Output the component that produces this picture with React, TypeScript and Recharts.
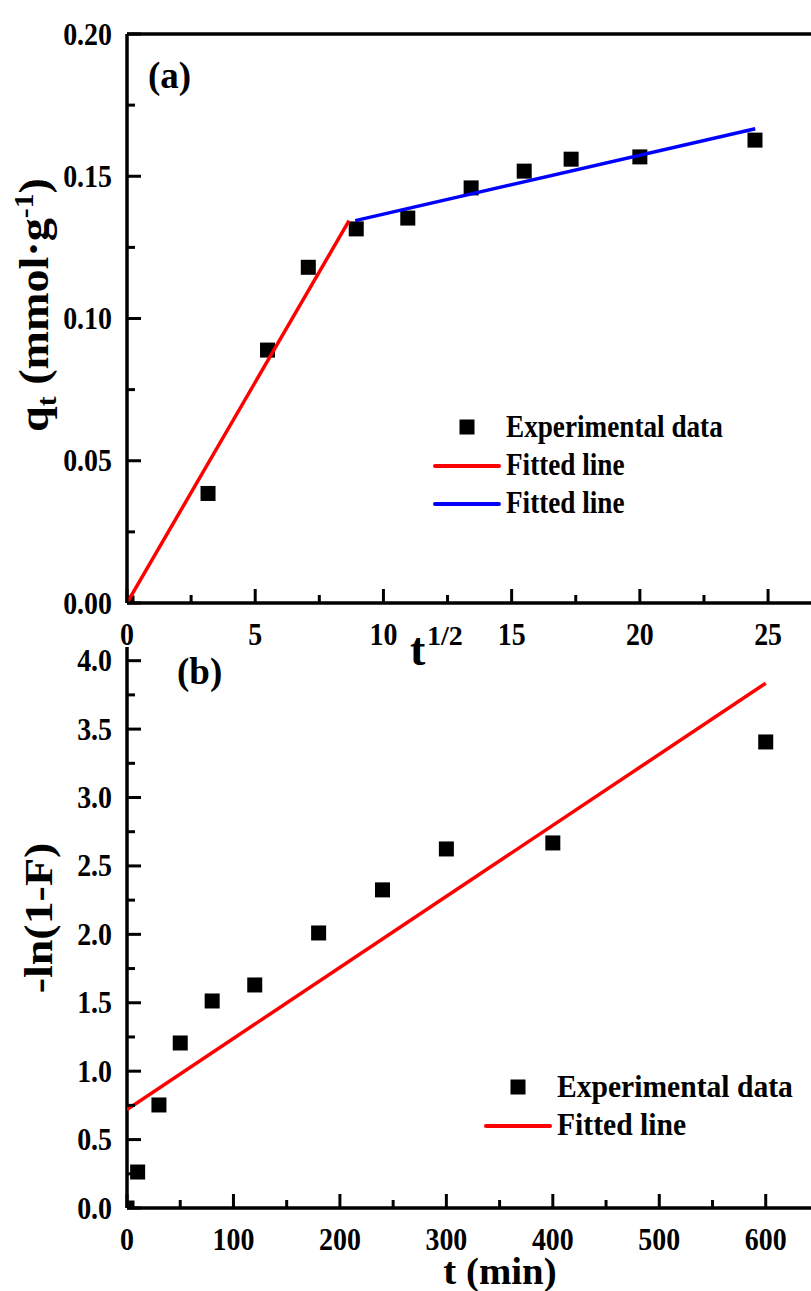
import React from 'react';
import { ComposedChart, Scatter, XAxis, YAxis, ReferenceLine, Legend } from 'recharts';

// (a) intraparticle diffusion: q_t vs t^1/2
const sqrtT = [0, 3.16, 5.48, 7.07, 8.94, 10.95, 13.42, 15.49, 17.32, 20.0, 24.49];
const qt = [0, 0.0385, 0.0889, 0.118, 0.1315, 0.1353, 0.1459, 0.1518, 0.156, 0.1568, 0.1627];
const fitA1X = [0, 8.66];
const fitA1Y = [0, 0.1344];
const fitA2X = [8.9, 24.5];
const fitA2Y = [0.1344, 0.1667];
const xTicksA = [0, 2.5, 5, 7.5, 10, 12.5, 15, 17.5, 20, 22.5, 25, 27.5];
const xMajorA = [0, 5, 10, 15, 20, 25];
const yTicksA = [0, 0.025, 0.05, 0.075, 0.1, 0.125, 0.15, 0.175, 0.2];
const yMajorA = [0, 0.05, 0.1, 0.15, 0.2];

// (b) film diffusion: -ln(1-F) vs t
const timeMin = [0, 10, 30, 50, 80, 120, 180, 240, 300, 400, 600];
const lnF = [0, 0.263, 0.753, 1.206, 1.513, 1.63, 2.01, 2.325, 2.624, 2.668, 3.406];
const fitBX = [0, 600];
const fitBY = [0.72, 3.835];
const xTicksB = [0, 50, 100, 150, 200, 250, 300, 350, 400, 450, 500, 550, 600, 650];
const xMajorB = [0, 100, 200, 300, 400, 500, 600];
const yTicksB = [0, 0.25, 0.5, 0.75, 1, 1.25, 1.5, 1.75, 2, 2.25, 2.5, 2.75, 3, 3.25, 3.5, 3.75, 4];
const yMajorB = [0, 0.5, 1, 1.5, 2, 2.5, 3, 3.5, 4];

const SERIF = '"Liberation Serif", "Times New Roman", Times, serif';

const zip = (xs: number[], ys: number[]) => xs.map((x, i) => ({ x, y: ys[i] }));

const isIn = (arr: number[], v: number) => arr.some((m) => Math.abs(m - v) < 1e-9);

function bottomTick(majors: number[], fmt: (v: number) => string) {
  return (props: any) => {
    const { x, y, payload } = props;
    const major = isIn(majors, payload.value);
    return (
      <g>
        <line x1={x} x2={x} y1={y} y2={y - (major ? 14 : 8)} stroke="#000" strokeWidth={3} />
        {major && (
          <text
            transform={`translate(${x},${y + 42}) scale(0.9,1)`}
            textAnchor="middle"
            fontFamily={SERIF}
            fontWeight="bold"
            fontSize={31}
            fill="#000"
          >
            {fmt(payload.value)}
          </text>
        )}
      </g>
    );
  };
}

function leftTick(majors: number[], fmt: (v: number) => string) {
  return (props: any) => {
    const { x, y, payload } = props;
    const major = isIn(majors, payload.value);
    return (
      <g>
        <line x1={x} x2={x + (major ? 14 : 8)} y1={y} y2={y} stroke="#000" strokeWidth={3} />
        {major && (
          <text
            transform={`translate(${x - 15},${y + 10.5}) scale(0.9,1)`}
            textAnchor="end"
            fontFamily={SERIF}
            fontWeight="bold"
            fontSize={31}
            fill="#000"
          >
            {fmt(payload.value)}
          </text>
        )}
      </g>
    );
  };
}

function legendBox(sx: number) {
  return (props: any) => {
    const items = props.payload || [];
    return (
      <svg width={380} height={130} style={{ overflow: 'visible' }}>
        {items.map((it: any, i: number) => {
          const base = 37 + 38 * i;
          const tx = 76;
          return (
            <g key={i}>
              {it.type === 'square' ? (
                <rect x={tx - 46.5} y={base - 17.5} width={15} height={15} fill="#000" />
              ) : (
                <line x1={tx - 71} x2={tx - 7} y1={base - 9} y2={base - 9} stroke={it.color} strokeWidth={4} strokeLinecap="round" />
              )}
              <text
                transform={`translate(${tx},${base}) scale(${sx},1)`}
                fontFamily={SERIF}
                fontWeight="bold"
                fontSize={32}
                fill="#000"
              >
                {it.value}
              </text>
            </g>
          );
        })}
      </svg>
    );
  };
}

const square = (p: any) => <rect x={p.cx - 7.5} y={p.cy - 7.5} width={15} height={15} fill="#000" />;
const none = () => <g />;

const axisLine = { stroke: '#000', strokeWidth: 3.5 };

export default function App() {
  const txt = { fontFamily: SERIF, fontWeight: 'bold' as const, fill: '#000' };
  return (
    <div style={{ position: 'absolute', left: 0, top: 0, width: 811, height: 1291, overflow: 'hidden', background: '#fff' }}>
      <div style={{ position: 'absolute', left: 0, top: 0 }}>
        <ComposedChart width={900} height={660} margin={{ top: 34, right: 55, bottom: 0, left: 0 }}>
          <XAxis
            dataKey="x"
            type="number"
            domain={[0, 28]}
            ticks={xTicksA}
            interval={0}
            allowDataOverflow
            height={57}
            tickSize={0}
            tickMargin={0}
            tickLine={false}
            axisLine={axisLine}
            tick={bottomTick(xMajorA, (v) => String(v))}
          />
          <YAxis
            dataKey="y"
            type="number"
            domain={[0, 0.2]}
            ticks={yTicksA}
            interval={0}
            allowDataOverflow
            width={127}
            tickSize={0}
            tickMargin={0}
            tickLine={false}
            axisLine={axisLine}
            tick={leftTick(yMajorA, (v) => v.toFixed(2))}
          />
          <ReferenceLine y={0.2} stroke="#000" strokeWidth={3.5} ifOverflow="visible" />
          <Scatter name="Experimental data" data={zip(sqrtT, qt)} shape={square} legendType="square" fill="#000" isAnimationActive={false} />
          <Scatter name="Fitted line" data={zip(fitA1X, fitA1Y)} line={{ stroke: '#ff0000', strokeWidth: 3.5 }} shape={none} legendType="line" fill="#ff0000" isAnimationActive={false} />
          <Scatter name="Fitted line" data={zip(fitA2X, fitA2Y)} line={{ stroke: '#0000ff', strokeWidth: 3.5 }} shape={none} legendType="line" fill="#0000ff" isAnimationActive={false} />
          <Legend
            layout="vertical"
            align="center"
            verticalAlign="middle"
            content={legendBox(0.85)}
            wrapperStyle={{ left: 430, top: 400, width: 380, height: 130 }}
          />
        </ComposedChart>
      </div>
      <div style={{ position: 'absolute', left: 0, top: 600 }}>
        <ComposedChart width={900} height={691} margin={{ top: 47, right: 70.4, bottom: 0, left: 0 }}>
          <XAxis
            dataKey="x"
            type="number"
            domain={[0, 660]}
            ticks={xTicksB}
            interval={0}
            allowDataOverflow
            height={83}
            tickSize={0}
            tickMargin={0}
            tickLine={false}
            axisLine={axisLine}
            tick={bottomTick(xMajorB, (v) => String(v))}
          />
          <YAxis
            dataKey="y"
            type="number"
            domain={[0, 4.1]}
            ticks={yTicksB}
            interval={0}
            allowDataOverflow
            width={127}
            tickSize={0}
            tickMargin={0}
            tickLine={false}
            axisLine={axisLine}
            tick={leftTick(yMajorB, (v) => v.toFixed(1))}
          />
          <Scatter name="Experimental data" data={zip(timeMin, lnF)} shape={square} legendType="square" fill="#000" isAnimationActive={false} />
          <Scatter name="Fitted line" data={zip(fitBX, fitBY)} line={{ stroke: '#ff0000', strokeWidth: 3.5 }} shape={none} legendType="line" fill="#ff0000" isAnimationActive={false} />
          <Legend
            layout="vertical"
            align="center"
            verticalAlign="middle"
            content={legendBox(0.925)}
            wrapperStyle={{ left: 481, top: 460, width: 380, height: 130 }}
          />
        </ComposedChart>
      </div>
      <svg width={811} height={1291} style={{ position: 'absolute', left: 0, top: 0, pointerEvents: 'none' }}>
        <text x={148} y={88} fontSize={37} {...txt}>(a)</text>
        <text x={177} y={684} fontSize={37} {...txt}>(b)</text>
        <text transform="translate(48,305) rotate(-90) scale(1.1,1)" textAnchor="middle" fontSize={42} {...txt}>
          q<tspan fontSize={27} dy={8}>t</tspan>
          <tspan dy={-8}> (mmol·g</tspan>
          <tspan fontSize={27} dy={-15}>-1</tspan>
          <tspan dy={15}>)</tspan>
        </text>
        <text transform="translate(52,918) rotate(-90) scale(1.15,1)" textAnchor="middle" fontSize={40} {...txt}>-ln(1-F)</text>
        <text x={410} y={665} fontSize={46} {...txt}>t</text>
        <text x={427} y={645} fontSize={28} {...txt}>1/2</text>
        <text transform="translate(500,1284) scale(1.05,1)" textAnchor="middle" fontSize={37} {...txt}>t (min)</text>
      </svg>
    </div>
  );
}
